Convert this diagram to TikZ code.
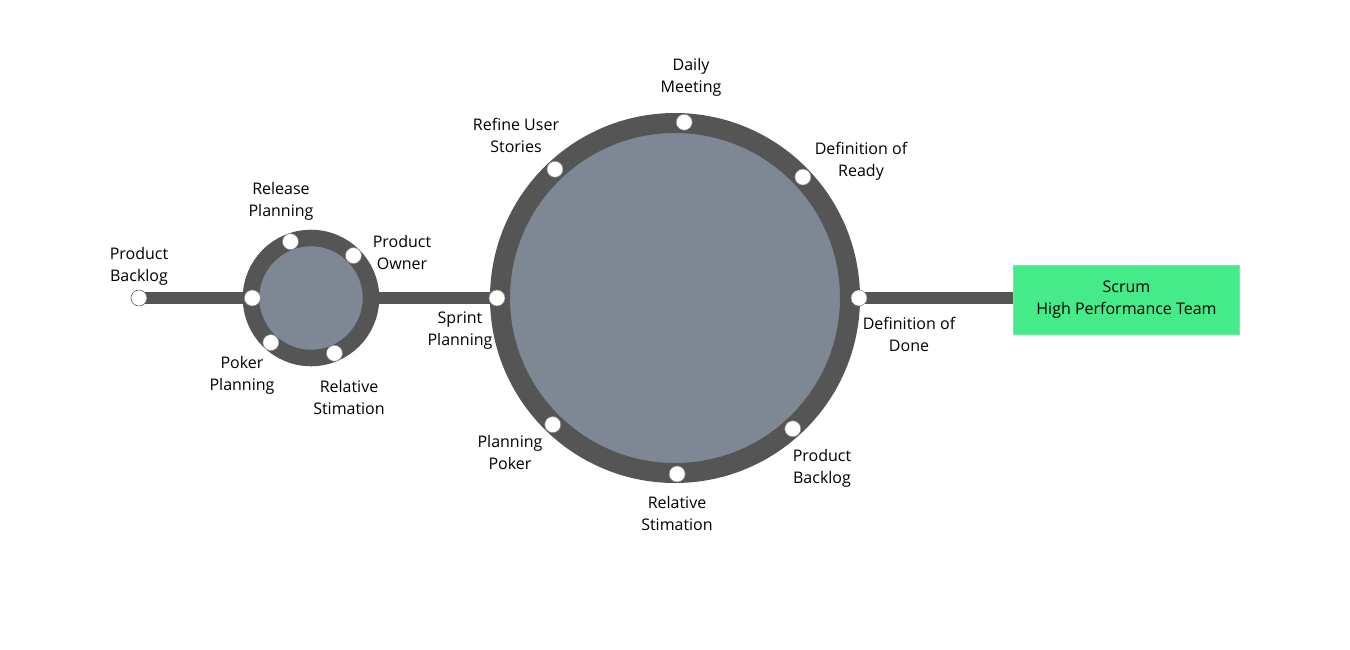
\documentclass[tikz,border=0pt]{standalone}
\usepackage{fontspec}
\setmainfont{Open Sans}
\usepackage{tikz}
\usetikzlibrary{calc,positioning}
\definecolor{ringdark}{HTML}{555555}
\definecolor{ringfill}{HTML}{7E8894}
\definecolor{teamgreen}{HTML}{45EA89}

\begin{document}
\begin{tikzpicture}[x=0.75pt,y=-0.75pt]
             \tikzstyle{track}=[draw=ringdark,line width=9.5pt]
             \tikzstyle{ring}=[circle,draw=ringdark,fill=ringfill,inner sep=0pt]
             \tikzstyle{dot}=[circle,fill=white,draw=ringdark!70,line width=0.4pt,inner sep=0pt,minimum size=12pt]
             \tikzstyle{lbl}=[align=center,font=\fontsize{12}{16.5}\selectfont,inner sep=0pt]
             \useasboundingbox (0,0) rectangle (1350,650);
             % rings
             \node (small) [ring,line width=12.4pt,minimum size=90pt] at (311,298) {};
             \node (big) [ring,line width=15pt,minimum size=262.5pt] at (675,298) {};
             \node (team) [draw=teamgreen!80!white,fill=teamgreen,line width=0.6pt,minimum width=170pt,minimum height=52pt,lbl] at (1126.5,300) {Scrum\\High Performance Team};
             \coordinate (start) at (139,298);
             % tracks between the rings
             \draw [track] (start) -- (small.west);
             \draw [track] (small.east) -- (big.west);
             \draw [track] (big.east) -- (team.west |- big.east);
             % dots of the small ring
             \node (pbdot) [dot,draw=ringdark] at (start) {};
             \node (rpdot) [dot] at ($(small.center)+(110:45pt)$) {};
             \node (podot) [dot] at ($(small.center)+(45:45pt)$) {};
             \node (wdot) [dot] at ($(small.center)+(180:44pt)$) {};
             \node (ppdot) [dot] at ($(small.center)+(228:45pt)$) {};
             \node (rsdot) [dot] at ($(small.center)+(293:45pt)$) {};
             % dots of the big ring
             \node (spdot) [dot] at ($(big.center)+(180:133.5pt)$) {};
             \node (rudot) [dot] at ($(big.center)+(133:132pt)$) {};
             \node (dmdot) [dot] at ($(big.center)+(87:132pt)$) {};
             \node (drdot) [dot] at ($(big.center)+(43.4:132pt)$) {};
             \node (dddot) [dot] at ($(big.center)+(0:138pt)$) {};
             \node (bldot) [dot] at ($(big.center)+(-48:132pt)$) {};
             \node (rbdot) [dot] at ($(big.center)+(-89.3:132pt)$) {};
             \node (pkdot) [dot] at ($(big.center)+(226:132pt)$) {};
             % labels
             \node (pb) [lbl] at (139,266) {Product\\Backlog};
             \node (rp) [lbl] at (281,201) {Release\\Planning};
             \node (po) [lbl] at (402,252) {Product\\Owner};
             \node (pp) [lbl] at (242,375) {Poker\\Planning};
             \node (rs) [lbl] at (349,397) {Relative\\Stimation};
             \node (sp) [lbl] at (460,331) {Sprint\\Planning};
             \node (ru) [lbl] at (516,135) {Refine User\\Stories};
             \node (dm) [lbl] at (691,77) {Daily\\Meeting};
             \node (dr) [lbl] at (861,161) {Definition of\\Ready};
             \node (dd) [lbl] at (909,334) {Definition of\\Done};
             \node (bl) [lbl] at (822,468) {Product\\Backlog};
             \node (rb) [lbl] at (677,513) {Relative\\Stimation};
             \node (pk) [lbl] at (510,452) {Planning\\Poker};
\end{tikzpicture}
\end{document}
